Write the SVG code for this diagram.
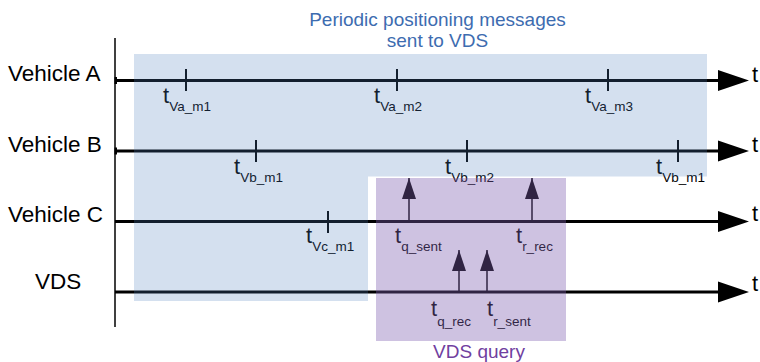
<svg xmlns="http://www.w3.org/2000/svg" width="760" height="362" viewBox="0 0 760 362">
  <defs>
    <style>
      text { font-family: "Liberation Sans", Arial, sans-serif; }
      .lane { fill: #000; font-size: 22.5px; }
      .axis { stroke: #000; stroke-width: 1.5; fill: none; }
      .tl { stroke: #000; stroke-width: 3; fill: none; }
      .tick { stroke: #000; stroke-width: 2; }
      .head { fill: #000; }
      .t { fill: #000; font-size: 22px; }
      .sub { font-size: 13.5px; }
      .msg { stroke: #000; stroke-width: 1.5; fill: none; }
      .blue { fill: #4f81bd; fill-opacity: 0.245; }
      .purple { fill: #7f5fb0; fill-opacity: 0.38; }
      .cap-blue { fill: #3d6cb0; font-size: 19px; text-anchor: middle; }
      .cap-purple { fill: #7040a0; font-size: 19px; text-anchor: middle; }
    </style>
    <!-- filled triangle, tip at the end of the line -->
    <marker id="up" viewBox="0 0 21 14" refX="21" refY="7" markerWidth="21" markerHeight="14" markerUnits="userSpaceOnUse" orient="auto">
      <path d="M0,0 L21,7 L0,14 Z" fill="#000"/>
    </marker>
  </defs>

  <!-- vertical reference axis -->
  <line class="axis" x1="115" y1="38" x2="115" y2="327"/>

  <!-- Vehicle A timeline -->
  <g id="lane-a">
    <text class="lane" x="8" y="81">Vehicle A</text>
    <rect x="114.5" y="77" width="2.5" height="7" fill="#000"/>
    <line class="tl" x1="115" y1="80.5" x2="720" y2="80.5"/>
    <polygon class="head" points="718,70 749,80.5 718,91"/>
    <text class="t" x="752" y="82">t</text>
    <line class="tick" x1="186" y1="69" x2="186" y2="91"/>
    <line class="tick" x1="397" y1="69" x2="397" y2="91"/>
    <line class="tick" x1="608" y1="69" x2="608" y2="91"/>
    <text class="t" x="163" y="103">t<tspan class="sub" dy="8">Va_m1</tspan></text>
    <text class="t" x="374" y="103">t<tspan class="sub" dy="8">Va_m2</tspan></text>
    <text class="t" x="585" y="103">t<tspan class="sub" dy="8">Va_m3</tspan></text>
  </g>

  <!-- Vehicle B timeline -->
  <g id="lane-b">
    <text class="lane" x="8" y="152">Vehicle B</text>
    <rect x="114.5" y="147.5" width="2.5" height="7" fill="#000"/>
    <line class="tl" x1="115" y1="151" x2="720" y2="151"/>
    <polygon class="head" points="718,140.5 749,151 718,161.5"/>
    <text class="t" x="752" y="152">t</text>
    <line class="tick" x1="256" y1="140" x2="256" y2="162"/>
    <line class="tick" x1="467" y1="140" x2="467" y2="162"/>
    <line class="tick" x1="678" y1="140" x2="678" y2="162"/>
    <text class="t" x="234" y="174">t<tspan class="sub" dy="8">Vb_m1</tspan></text>
    <text class="t" x="445" y="174">t<tspan class="sub" dy="8">Vb_m2</tspan></text>
    <text class="t" x="656" y="174">t<tspan class="sub" dy="8">Vb_m1</tspan></text>
  </g>

  <!-- Vehicle C timeline -->
  <g id="lane-c">
    <text class="lane" x="8" y="222">Vehicle C</text>
    <line class="tl" x1="115" y1="221.5" x2="720" y2="221.5"/>
    <polygon class="head" points="718,211 749,221.5 718,232"/>
    <text class="t" x="752" y="221">t</text>
    <line class="tick" x1="328" y1="211" x2="328" y2="233"/>
    <text class="t" x="306" y="243">t<tspan class="sub" dy="8">Vc_m1</tspan></text>
    <text class="t" x="395" y="243">t<tspan class="sub" dy="8">q_sent</tspan></text>
    <text class="t" x="516" y="243">t<tspan class="sub" dy="8">r_rec</tspan></text>
  </g>

  <!-- VDS timeline -->
  <g id="lane-vds">
    <text class="lane" x="35" y="289">VDS</text>
    <line class="tl" x1="115" y1="292" x2="720" y2="292"/>
    <polygon class="head" points="718,281.5 749,292 718,302.5"/>
    <text class="t" x="752" y="291">t</text>
    <text class="t" x="431" y="316">t<tspan class="sub" dy="10">q_rec</tspan></text>
    <text class="t" x="487" y="316">t<tspan class="sub" dy="10">r_sent</tspan></text>
  </g>

  <!-- query / response events -->
  <g id="connectors">
    <line class="msg" x1="409" y1="221" x2="409" y2="178" marker-end="url(#up)"/>
    <line class="msg" x1="532" y1="221" x2="532" y2="178" marker-end="url(#up)"/>
    <line class="msg" x1="459" y1="292" x2="459" y2="250" marker-end="url(#up)"/>
    <line class="msg" x1="487" y1="292" x2="487" y2="250" marker-end="url(#up)"/>
  </g>

  <!-- shaded time windows -->
  <g id="periodic-window">
    <path class="blue" d="M134,54 H707 V176.5 H368 V301 H134 Z"/>
    <text class="cap-blue" x="437.5" y="26">Periodic positioning messages</text>
    <text class="cap-blue" x="437.5" y="47">sent to VDS</text>
  </g>
  <g id="query-window">
    <rect class="purple" x="376" y="178" width="190" height="163"/>
    <text class="cap-purple" x="479" y="358">VDS query</text>
  </g>
</svg>
